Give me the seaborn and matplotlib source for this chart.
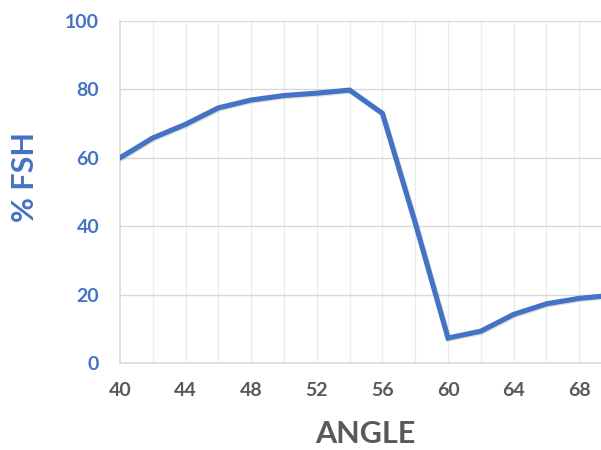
"""
% FSH vs ANGLE line chart
"""

import pandas as pd
import matplotlib.pyplot as plt
import matplotlib.patheffects as pe
import seaborn as sns

# data
angles = [40, 42, 44, 46, 48, 50, 52, 54, 56, 58, 60, 62, 64, 66, 68, 70]
fsh = [60, 65.8, 69.8, 74.6, 76.9, 78.2, 78.9, 79.8, 73, 41, 7.3, 9.3, 14.2, 17.3, 18.9, 19.8]

x_ticks = [40, 44, 48, 52, 56, 60, 64, 68]
y_ticks = [0, 20, 40, 60, 80, 100]

BLUE = '#4472C4'
GRAY = '#595959'

sns.set_style("white")
plt.rcParams['font.family'] = ['Lato', 'DejaVu Sans']

df = pd.DataFrame({'angle': angles, 'fsh': fsh})

fig = plt.figure(figsize=(6.01, 4.5), dpi=100)
ax = fig.add_axes([120 / 601, 87 / 450, 1 - 120 / 601, 342 / 450])

# grid: faint verticals every 2, grey horizontals every 20
for xv in range(42, 70, 2):
    ax.axvline(xv, color='#EBEBEB', lw=1.0, zorder=0)
for yv in y_ticks[1:]:
    ax.axhline(yv, color='#D9D9D9', lw=1.0, zorder=0)

sns.lineplot(data=df, x='angle', y='fsh', ax=ax, color=BLUE, lw=3.7,
             solid_joinstyle='miter', zorder=3,
             path_effects=[pe.SimpleLineShadow(offset=(0.8, -0.8), alpha=0.12, shadow_color='black'),
                           pe.Normal()])

ax.set_xlim(40, 40 + 481 / 16.4)
ax.set_ylim(0, 100)
ax.set_xticks(x_ticks)
ax.set_yticks(y_ticks)

for side in ['top', 'right']:
    ax.spines[side].set_visible(False)
for side in ['left', 'bottom']:
    ax.spines[side].set_color('#D9D9D9')
    ax.spines[side].set_linewidth(1.2)

ax.tick_params(axis='y', length=0, pad=15, labelsize=14, labelcolor=BLUE)
ax.tick_params(axis='x', length=0, pad=14, labelsize=14, labelcolor=GRAY)
for lab in ax.get_xticklabels() + ax.get_yticklabels():
    lab.set_fontweight('bold')

ax.set_xlabel('ANGLE', fontsize=22, fontweight='bold', color=GRAY, va='center')
ax.set_ylabel('% FSH', fontsize=22, fontweight='bold', color=BLUE, va='center')
ax.xaxis.set_label_coords((365 - 120) / 481, -(434 - 363) / 342)
ax.yaxis.set_label_coords(-(120 - 25) / 481, (363 - 177) / 342)

fig.savefig('out.png', dpi=100)
plt.close(fig)
